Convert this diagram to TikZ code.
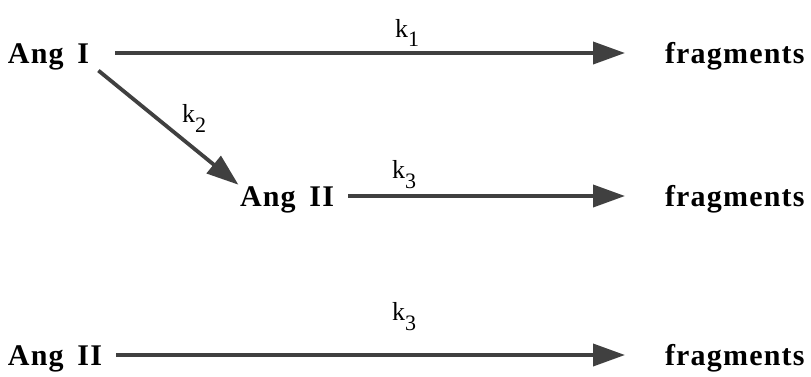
\documentclass[tikz,border=0pt]{standalone}
\usepackage{fontspec}
\setmainfont{Liberation Serif}
\usetikzlibrary{arrows.meta,positioning,calc}

\begin{document}
\begin{tikzpicture}[
  x=1pt, y=-1pt,
  species/.style={inner sep=0pt, outer sep=0pt, text height=20pt, text depth=0pt, font=\fontsize{30}{32}\selectfont\bfseries\addfontfeature{LetterSpace=4}},
  rate/.style={inner sep=0pt, anchor=base west, font=\fontsize{26}{28}\selectfont},
  arr/.style={-{Triangle[length=32pt,width=22pt]}, line width=3.8pt, draw=black!75, fill=black!75}
]
\useasboundingbox (0,0) rectangle (811,376);
% first scheme
\node[species, anchor=base west] (angI)   at (8,63)    {Ang\, I};
\node[species, anchor=base west] (fragA)  at (665,63)  {fragments};
\node[species, anchor=base west] (angIIa) at (240,206) {Ang\, II};
\node[species, anchor=base west] (fragB)  at (665,206) {fragments};
\node[rate] (kA) at (395,37)  {k\raisebox{-9pt}{\fontsize{22}{22}\selectfont 1}};
\node[rate] (kB) at (182,122) {k\raisebox{-10pt}{\fontsize{22}{22}\selectfont 2}};
\node[rate] (kC) at (392,178) {k\raisebox{-10pt}{\fontsize{22}{22}\selectfont 3}};
\draw[arr, shorten <=26pt, shorten >=40pt] (angI) -- (fragA);
\draw[arr, shorten <=12pt, shorten >=2pt] (angI.south east) -- (angIIa.north west);
\draw[arr, shorten <=14pt, shorten >=40pt] (angIIa) -- (fragB);
% second scheme
\node[species, anchor=base west] (angIIb) at (8,365)   {Ang\, II};
\node[species, anchor=base west] (fragC)  at (665,365) {fragments};
\node[rate] (kD) at (392,320) {k\raisebox{-10pt}{\fontsize{22}{22}\selectfont 3}};
\draw[arr, shorten <=14pt, shorten >=40pt] (angIIb) -- (fragC);
\end{tikzpicture}
\end{document}
